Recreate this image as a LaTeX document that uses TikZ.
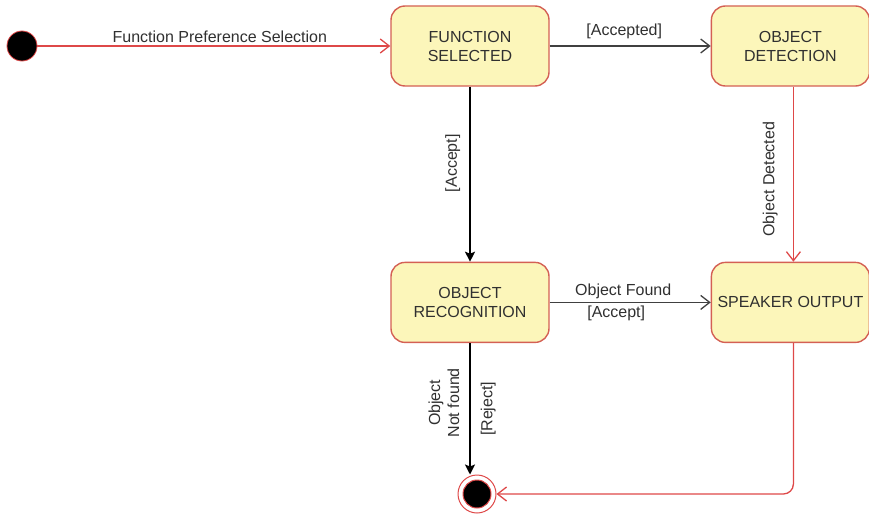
\documentclass[tikz,border=0pt]{standalone}
\usepackage{fontspec}
\setmainfont{Liberation Sans}
\usetikzlibrary{arrows.meta,positioning,calc}

\definecolor{stfill}{RGB}{252,246,186}
\definecolor{stline}{RGB}{212,96,84}
\definecolor{redline}{RGB}{222,72,72}
\definecolor{darkline}{RGB}{64,64,64}
\definecolor{txtgray}{RGB}{48,48,48}

\begin{document}
\begin{tikzpicture}[
    x=1pt, y=-1pt,
    font=\fontsize{16}{19}\selectfont,
    state/.style={
        draw=stline,
        fill=stfill,
        line width=1.4pt,
        rounded corners=14pt,
        minimum width=158pt,
        minimum height=80pt,
        align=center,
        text=txtgray,
        inner sep=2pt
    },
    initst/.style={circle, draw=redline, fill=black, line width=0.8pt, minimum size=30pt, inner sep=0pt},
    finalst/.style={circle, draw=redline, line width=1pt, minimum size=38pt, inner sep=0pt},
    redarrow/.style={draw=redline, line width=1.3pt, -{Straight Barb[length=9pt,width=14pt]}},
    grayarrow/.style={draw=darkline, line width=1.3pt, -{Straight Barb[length=9pt,width=14pt]}},
    blkarrow/.style={draw=black, line width=1.4pt, -{Stealth[length=10pt,width=10pt,inset=2pt]}},
    lbl/.style={text=txtgray, inner sep=3pt}
]
\useasboundingbox (0,0) rectangle (869,519);

\node[initst] (start) at (22,46) {};
\node[state] (fsel) at (470,46) {FUNCTION\\SELECTED};
\node[state, right=161pt of fsel] (odet) {OBJECT\\DETECTION};
\node[state, below=175pt of fsel] (orec) {OBJECT\\RECOGNITION};
\node[state, right=161pt of orec] (spk) {SPEAKER OUTPUT};
\node[finalst] (fin) at (477,494) {};
\fill[black, draw=redline, line width=1pt] (fin.center) circle (14);

\draw[redarrow] (start) -- node[lbl, above, midway, xshift=6pt] {Function Preference Selection} (fsel);
\draw[grayarrow] (fsel) -- node[lbl, above=4pt, midway, xshift=-6pt] {[Accepted]} (odet);
\draw[blkarrow] (fsel) -- node[lbl, above, rotate=90, midway, xshift=11pt, yshift=6pt] {[Accept]} (orec);
\draw[redarrow] ([xshift=3pt]odet.south) -- node[lbl, above, rotate=90, midway, xshift=-5pt, yshift=12pt] {Object Detected} ([xshift=3pt]spk.north);
\draw[grayarrow] (orec) -- node[lbl, above, midway, xshift=-7pt] {Object Found}
                            node[lbl, below, midway, xshift=-14pt] {[Accept]} (spk);
\draw[blkarrow] (orec) -- node[lbl, above, rotate=90, midway, align=center, xshift=6pt, yshift=8pt, inner sep=2pt] {Object\\Not found}
                          node[lbl, below, rotate=90, midway, xshift=0pt, yshift=-7pt] {[Reject]} (orec |- fin.north);
\draw[redarrow, rounded corners=10pt] ([xshift=3pt]spk.south) |- (fin.east);
\end{tikzpicture}
\end{document}
